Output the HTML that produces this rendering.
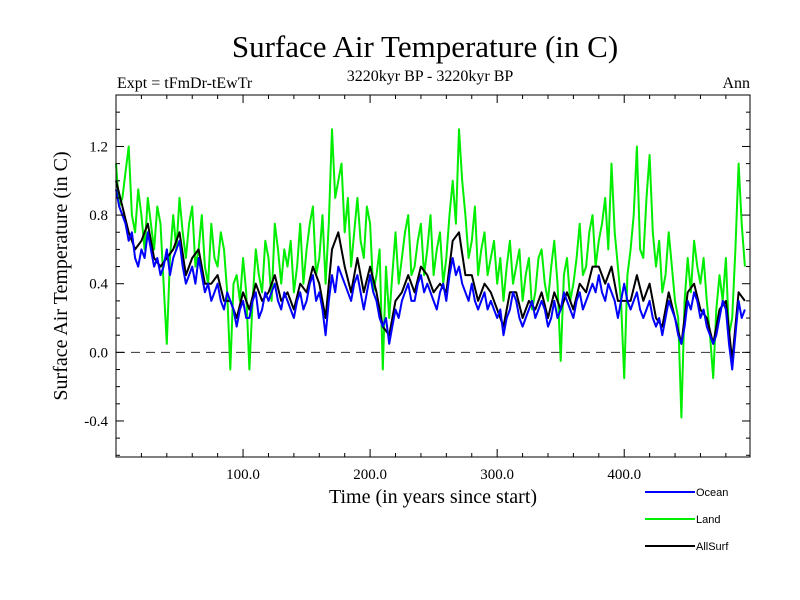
<!DOCTYPE html>
<html><head><meta charset="utf-8"><style>
html,body{margin:0;padding:0;background:#fff;}
svg{display:block;}
.serif{font-family:"Liberation Serif",serif;}
.sans{font-family:"Liberation Sans",sans-serif;}
</style></head><body>
<svg id="chart" width="800" height="600" xmlns="http://www.w3.org/2000/svg">
<text class="serif" x="425" y="57" font-size="31" text-anchor="middle">Surface Air Temperature (in C)</text>
<text class="serif" x="430" y="81" font-size="16" text-anchor="middle">3220kyr BP - 3220kyr BP</text>
<text class="serif" x="117" y="88" font-size="16">Expt = tFmDr-tEwTr</text>
<text class="serif" x="750" y="88" font-size="16" text-anchor="end">Ann</text>
<text class="serif" x="0" y="0" font-size="20" text-anchor="middle" transform="translate(67,276) rotate(-90)">Surface Air Temperature (in C)</text>
<text class="serif" x="433" y="503" font-size="20" text-anchor="middle">Time (in years since start)</text>
<g id="plot"></g>
<g id="legend"></g>
</svg>
<script>
const years = [];
for (let i = 0; i < 100; i++) years.push(i * 5);
const yearsFine = [];
for (let i = 0; i < 199; i++) yearsFine.push(i * 2.5);
const ocean = [0.95,0.85,0.8,0.75,0.65,0.7,0.55,0.5,0.6,0.55,0.7,0.6,0.5,0.55,0.45,0.5,0.6,0.45,0.55,0.6,0.65,0.5,0.4,0.45,0.5,0.4,0.55,0.45,0.35,0.4,0.3,0.35,0.4,0.3,0.25,0.35,0.3,0.25,0.15,0.25,0.3,0.2,0.2,0.3,0.35,0.2,0.25,0.35,0.3,0.35,0.4,0.3,0.25,0.35,0.3,0.25,0.2,0.3,0.35,0.25,0.3,0.4,0.45,0.3,0.35,0.25,0.1,0.3,0.45,0.35,0.5,0.45,0.4,0.35,0.3,0.4,0.45,0.35,0.25,0.35,0.45,0.35,0.3,0.2,0.15,0.2,0.05,0.15,0.25,0.2,0.3,0.35,0.4,0.3,0.3,0.4,0.45,0.35,0.4,0.35,0.3,0.25,0.35,0.4,0.3,0.45,0.55,0.45,0.5,0.4,0.35,0.3,0.4,0.3,0.25,0.3,0.35,0.25,0.3,0.25,0.2,0.25,0.1,0.2,0.25,0.35,0.3,0.2,0.15,0.2,0.25,0.3,0.2,0.25,0.3,0.25,0.15,0.2,0.3,0.2,0.25,0.35,0.3,0.25,0.2,0.3,0.35,0.25,0.3,0.35,0.4,0.35,0.45,0.35,0.3,0.4,0.35,0.3,0.2,0.3,0.4,0.3,0.25,0.3,0.35,0.25,0.2,0.25,0.3,0.2,0.15,0.2,0.1,0.2,0.3,0.25,0.2,0.1,0.05,0.15,0.3,0.25,0.35,0.3,0.2,0.25,0.15,0.1,0.05,0.1,0.2,0.3,0.25,0.05,-0.1,0.1,0.3,0.2,0.25];
const land = [1.1,0.85,0.9,1.05,1.2,0.8,0.7,0.95,0.8,0.6,0.9,0.75,0.6,0.85,0.75,0.4,0.05,0.55,0.8,0.6,0.9,0.7,0.55,0.75,0.85,0.5,0.6,0.8,0.5,0.4,0.75,0.55,0.5,0.7,0.6,0.35,-0.1,0.4,0.45,0.3,0.55,0.35,-0.1,0.3,0.6,0.45,0.35,0.65,0.55,0.3,0.75,0.6,0.4,0.6,0.5,0.65,0.35,0.5,0.75,0.4,0.6,0.75,0.85,0.45,0.55,0.8,0.4,0.75,1.3,0.9,1.0,1.1,0.7,0.9,0.5,0.7,0.9,0.65,0.55,0.85,0.75,0.35,0.45,0.6,-0.1,0.5,0.2,0.45,0.7,0.4,0.55,0.7,0.8,0.45,0.5,0.65,0.75,0.45,0.6,0.8,0.45,0.6,0.7,0.4,0.55,0.8,1.0,0.75,1.3,1.0,0.8,0.55,0.65,0.85,0.45,0.6,0.7,0.45,0.55,0.65,0.4,0.55,0.3,0.5,0.65,0.4,0.5,0.6,0.3,0.45,0.55,0.25,0.35,0.55,0.6,0.4,0.3,0.5,0.65,0.4,-0.05,0.45,0.55,0.3,0.4,0.55,0.75,0.45,0.5,0.7,0.8,0.5,0.65,0.75,0.9,0.6,1.1,0.7,0.5,0.3,-0.15,0.45,0.6,0.8,1.2,0.6,0.55,0.9,1.15,0.7,0.5,0.65,0.35,0.45,0.7,0.5,0.3,0.2,-0.38,0.3,0.55,0.35,0.65,0.5,0.4,0.55,0.3,0.1,-0.15,0.25,0.45,0.3,0.55,0.1,0.2,0.6,1.1,0.75,0.5];
const allSurf = [1.0,0.85,0.7,0.6,0.65,0.75,0.55,0.5,0.55,0.6,0.7,0.45,0.55,0.6,0.4,0.4,0.45,0.3,0.3,0.2,0.35,0.25,0.4,0.3,0.35,0.45,0.3,0.35,0.25,0.4,0.35,0.5,0.4,0.2,0.6,0.7,0.5,0.35,0.55,0.35,0.5,0.35,0.15,0.1,0.3,0.35,0.45,0.35,0.5,0.45,0.35,0.4,0.35,0.65,0.7,0.45,0.45,0.3,0.4,0.35,0.25,0.15,0.35,0.35,0.2,0.3,0.25,0.35,0.2,0.35,0.25,0.35,0.25,0.4,0.35,0.5,0.5,0.4,0.5,0.3,0.3,0.3,0.45,0.3,0.4,0.2,0.15,0.35,0.2,0.05,0.35,0.4,0.25,0.2,0.05,0.25,0.3,-0.05,0.35,0.3];
const xTickLabels = ["100.0","200.0","300.0","400.0"];
const xTickValues = [100,200,300,400];
const yTickLabels = ["-0.4","0.0","0.4","0.8","1.2"];
const yTickValues = [-0.4,0.0,0.4,0.8,1.2];
const legendNames = ["Ocean","Land","AllSurf"];
const legendColors = ["#0000ff","#00ee00","#000000"];

const NS = "http://www.w3.org/2000/svg";
const X0 = 116, X1 = 750, Y0 = 95, Y1 = 457;
const xMin = 0, xMax = 499, yMin = -0.61, yMax = 1.5;
function sx(v){ return X0 + (v - xMin) / (xMax - xMin) * (X1 - X0); }
function sy(v){ return Y1 - (v - yMin) / (yMax - yMin) * (Y1 - Y0); }
const plot = document.getElementById('plot');
function mk(tag, attrs, parent){ const e = document.createElementNS(NS, tag); for (const k in attrs) e.setAttribute(k, attrs[k]); parent.appendChild(e); return e; }

const zl = mk('line', {x1:X0, x2:X1, y1:sy(0), y2:sy(0), stroke:'#333', 'stroke-width':1, 'stroke-dasharray':'9,6'}, plot);



function series(xs, vals, color, name){
  const d = vals.map((v,i)=> (i?'L':'M') + sx(xs[i]).toFixed(1) + ',' + sy(v).toFixed(1)).join(' ');
  const p = mk('path', {d:d, fill:'none', stroke:color, 'stroke-width':2, 'stroke-linejoin':'round'}, plot);
  
  
}
series(yearsFine, land, '#00ee00', 'land-line');
series(years, allSurf, '#000000', 'allsurf-line');
series(yearsFine, ocean, '#0000ff', 'ocean-line');

const fr = mk('rect', {x:X0, y:Y0, width:X1-X0, height:Y1-Y0, fill:'none', stroke:'#000', 'stroke-width':1}, plot);



for (let v = 20; v < 500; v += 20) {
  const major = v % 100 === 0;
  const L = major ? 8 : 4;
  mk('line', {x1:sx(v), x2:sx(v), y1:Y1, y2:Y1-L, stroke:'#000'}, plot);
  mk('line', {x1:sx(v), x2:sx(v), y1:Y0, y2:Y0+L, stroke:'#000'}, plot);
}
for (let k = -6; k <= 14; k++) {
  const v = k / 10;
  const major = k % 4 === 0;
  const L = major ? 8 : 4;
  mk('line', {x1:X0, x2:X0+L, y1:sy(v), y2:sy(v), stroke:'#000'}, plot);
  mk('line', {x1:X1, x2:X1-L, y1:sy(v), y2:sy(v), stroke:'#000'}, plot);
}
xTickLabels.forEach((t,i)=>{
  const e = mk('text', {x:sx(xTickValues[i]), y:Y1+22, 'font-size':15, 'text-anchor':'middle', class:'serif'}, plot);
  e.textContent = t;
  
  
});
yTickLabels.forEach((t,i)=>{
  const e = mk('text', {x:X0-8, y:sy(yTickValues[i])+5, 'font-size':15, 'text-anchor':'end', class:'serif'}, plot);
  e.textContent = t;
  
  
});

const lg = document.getElementById('legend');
legendNames.forEach((n,i)=>{
  const y = 492 + i * 27;
  const l = mk('line', {x1:645, x2:695, y1:y, y2:y, stroke:legendColors[i], 'stroke-width':2}, lg);
  
  
  const t = mk('text', {x:696, y:y+4, 'font-size':11, class:'sans'}, lg);
  t.textContent = n;
  
  
});
</script>
</body></html>
